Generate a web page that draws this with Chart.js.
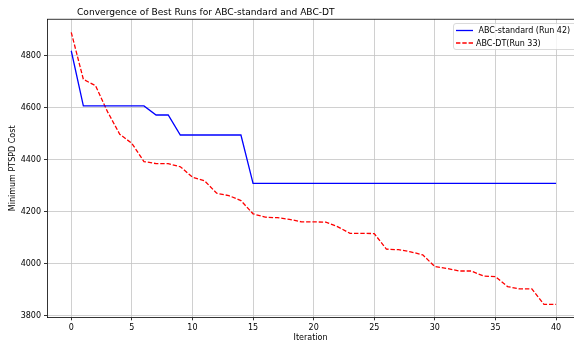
<!DOCTYPE html>
<html>
<head>
<meta charset="utf-8">
<script src="https://cdn.jsdelivr.net/npm/chart.js@4.4.1/dist/chart.umd.min.js"></script>
<style>
  html, body { margin: 0; padding: 0; background: #fff; }
</style>
</head>
<body>
<canvas id="convChart" width="574" height="346"></canvas>
<script>
// values
const chartTitle = "Convergence of Best Runs for ABC-standard and ABC-DT";
const iterations = [0, 1, 2, 3, 4, 5, 6, 7, 8, 9, 10, 11, 12, 13, 14, 15, 16, 17, 18, 19, 20,
  21, 22, 23, 24, 25, 26, 27, 28, 29, 30, 31, 32, 33, 34, 35, 36, 37, 38, 39, 40];
const abcStandard = [4820, 4608, 4608, 4608, 4608, 4608, 4608, 4573, 4573, 4496, 4496,
  4496, 4496, 4496, 4496, 4310, 4310, 4310, 4310, 4310, 4310, 4310, 4310, 4310, 4310,
  4310, 4310, 4310, 4310, 4310, 4310, 4310, 4310, 4310, 4310, 4310, 4310, 4310, 4310,
  4310, 4310];
const abcDT = [4891, 4710, 4686, 4585, 4499, 4464, 4394, 4386, 4386, 4374, 4334,
  4320, 4272, 4263, 4244, 4193, 4180, 4178, 4172, 4162, 4162, 4161, 4143, 4118, 4118,
  4117, 4057, 4055, 4047, 4035, 3990, 3983, 3973, 3973, 3954, 3951, 3913, 3904, 3904,
  3845, 3845];
const xTicks = [0, 5, 10, 15, 20, 25, 30, 35, 40];
const yTicks = [3800, 4000, 4200, 4400, 4600, 4800];

const FONT = "'DejaVu Sans', sans-serif";

const toPoints = (vals) => iterations.map((it, i) => ({ x: it, y: vals[i] }));

// top spine, title and matplotlib-like legend box
const extras = {
  id: "extras",
  afterDraw(chart) {
    const { ctx, chartArea } = chart;
    ctx.save();
    ctx.strokeStyle = "#000";
    ctx.lineWidth = 0.8;
    ctx.beginPath();
    ctx.moveTo(chartArea.left, chartArea.top);
    ctx.lineTo(chartArea.right, chartArea.top);
    ctx.stroke();

    ctx.fillStyle = "#000";
    ctx.font = "9.1px " + FONT;
    ctx.textBaseline = "alphabetic";
    ctx.fillText(chartTitle, 77, 15);

    // legend
    ctx.beginPath();
    ctx.roundRect(453.5, 23.5, 124, 26, 2.5);
    ctx.fillStyle = "rgba(255,255,255,0.8)";
    ctx.fill();
    ctx.strokeStyle = "#d0d0d0";
    ctx.lineWidth = 0.8;
    ctx.stroke();

    ctx.font = "8px " + FONT;
    ctx.textBaseline = "middle";
    chart.data.datasets.forEach((ds, i) => {
      const y = 30.5 + i * 12.5;
      ctx.strokeStyle = ds.borderColor;
      ctx.lineWidth = ds.borderWidth;
      ctx.setLineDash(ds.borderDash || []);
      ctx.beginPath();
      ctx.moveTo(456, y);
      ctx.lineTo(473, y);
      ctx.stroke();
      ctx.setLineDash([]);
      ctx.fillStyle = "#000";
      ctx.fillText(ds.label, 476, y + 0.5);
    });
    ctx.restore();
  }
};

const ctx = document.getElementById("convChart").getContext("2d");
const convChart = new Chart(ctx, {
  type: "line",
  data: {
    datasets: [
      {
        label: " ABC-standard (Run 42)",
        data: toPoints(abcStandard),
        borderColor: "#0000ff",
        borderWidth: 1.3,
        fill: false,
      },
      {
        label: "ABC-DT(Run 33)",
        data: toPoints(abcDT),
        borderColor: "#ff0000",
        borderWidth: 1.3,
        borderDash: [4.4, 1.9],
        fill: false,
      },
    ],
  },
  options: {
    responsive: false,
    animation: false,
    devicePixelRatio: 1,
    layout: { padding: { top: 19.3, left: 0, right: 0, bottom: 0 } },
    elements: { point: { radius: 0 }, line: { tension: 0 } },
    plugins: {
      legend: { display: false },
      title: { display: false },
      tooltip: { enabled: false },
    },
    scales: {
      x: {
        type: "linear",
        min: -2,
        max: 41.48,
        afterBuildTicks: (s) => { s.ticks = xTicks.map((v) => ({ value: v })); },
        afterFit: (s) => { s.height = 28.7; },
        ticks: { font: { family: FONT, size: 8 }, color: "#000", padding: 3, maxRotation: 0,
          callback: (v) => String(v) },
        grid: { color: "#c4c4c4", lineWidth: 0.8, tickLength: 3, tickColor: "#000", tickWidth: 0.8 },
        border: { color: "#000", width: 0.8 },
        title: { display: true, text: "Iteration", font: { family: FONT, size: 8 }, color: "#000", padding: 3 },
      },
      y: {
        min: 3795,
        max: 4941,
        afterBuildTicks: (s) => { s.ticks = yTicks.map((v) => ({ value: v })); },
        afterFit: (s) => { s.width = 47; },
        ticks: { font: { family: FONT, size: 8 }, color: "#000", padding: 3,
          callback: (v) => String(v) },
        grid: { color: "#c4c4c4", lineWidth: 0.8, tickLength: 3, tickColor: "#000", tickWidth: 0.8 },
        border: { color: "#000", width: 0.8 },
        title: { display: true, text: "Minimum PTSPD Cost", font: { family: FONT, size: 8 }, color: "#000", padding: 8 },
      },
    },
  },
  plugins: [extras],
});
</script>
</body>
</html>
